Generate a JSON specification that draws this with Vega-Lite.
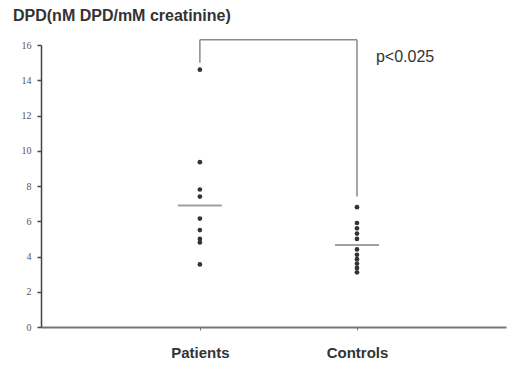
{
  "$schema": "https://vega.github.io/schema/vega-lite/v6.json",
  "width": 465,
  "height": 282,
  "autosize": {"type": "none"},
  "padding": {"left": 41, "top": 45, "right": 3, "bottom": 39},
  "background": "white",
  "config": {
    "view": {"stroke": null},
    "font": "Liberation Sans",
    "axisY": {
      "labelOverlap": false,
      "labelFont": "Liberation Serif",
      "labelFontSize": 10,
      "labelColor": "#555555",
      "labelPadding": 6,
      "domainColor": "#444444",
      "domainWidth": 1.5,
      "tickColor": "#444444",
      "tickWidth": 1.5,
      "tickSize": 4,
      "grid": false
    },
    "axisX": {
      "labelAngle": 0,
      "labelFontSize": 15,
      "labelFontWeight": "bold",
      "labelColor": "#333333",
      "labelFont": "Liberation Sans",
      "labelPadding": 15,
      "domainColor": "#777777",
      "domainWidth": 2,
      "tickColor": "#777777",
      "tickSize": 3,
      "grid": false
    }
  },
  "title": {
    "text": "DPD(nM DPD/mM creatinine)",
    "anchor": "start",
    "frame": "group",
    "dx": -28,
    "offset": 15,
    "fontSize": 16,
    "fontWeight": "bold",
    "color": "#333333",
    "font": "Liberation Sans"
  },
  "datasets": {
    "points": [
      {"group": "Patients", "value": 14.6},
      {"group": "Patients", "value": 9.35},
      {"group": "Patients", "value": 7.8},
      {"group": "Patients", "value": 7.4},
      {"group": "Patients", "value": 6.15},
      {"group": "Patients", "value": 5.5},
      {"group": "Patients", "value": 5.0},
      {"group": "Patients", "value": 4.8},
      {"group": "Patients", "value": 3.55},
      {"group": "Controls", "value": 6.8},
      {"group": "Controls", "value": 5.9},
      {"group": "Controls", "value": 5.6},
      {"group": "Controls", "value": 5.3},
      {"group": "Controls", "value": 5.0},
      {"group": "Controls", "value": 4.4},
      {"group": "Controls", "value": 4.1},
      {"group": "Controls", "value": 3.85},
      {"group": "Controls", "value": 3.6},
      {"group": "Controls", "value": 3.35},
      {"group": "Controls", "value": 3.1}
    ],
    "means": [
      {"group": "Patients", "value": 6.9},
      {"group": "Controls", "value": 4.65}
    ],
    "bracket": [
      {"group": "Patients", "group2": "Controls", "value": 16.3, "value2": 16.3},
      {"group": "Patients", "group2": "Patients", "value": 16.3, "value2": 15.0},
      {"group": "Controls", "group2": "Controls", "value": 16.3, "value2": 7.4}
    ],
    "annot": [
      {"group": "Controls", "value": 15.3, "label": "p<0.025"}
    ]
  },
  "encoding": {
    "x": {
      "field": "group",
      "type": "nominal",
      "sort": ["Patients", "Controls"],
      "scale": {"type": "point", "domain": ["Patients", "Controls"], "padding": 0.98, "align": 0.516},
      "axis": {"title": null, "labelDx": 4}
    },
    "y": {
      "field": "value",
      "type": "quantitative",
      "scale": {"domain": [0, 16], "nice": false, "zero": true},
      "axis": {"title": null, "values": [0, 2, 4, 6, 8, 10, 12, 14, 16]}
    }
  },
  "layer": [
    {
      "data": {"name": "points"},
      "mark": {"type": "point", "filled": true, "color": "#333333", "opacity": 1, "size": 22}
    },
    {
      "data": {"name": "bracket"},
      "mark": {"type": "rule", "color": "#8a8a8a", "strokeWidth": 1.5},
      "encoding": {
        "x2": {"field": "group2"},
        "y2": {"field": "value2"}
      }
    },
    {
      "data": {"name": "means"},
      "mark": {"type": "tick", "color": "#777777", "thickness": 2, "size": 44, "orient": "horizontal"}
    },
    {
      "data": {"name": "annot"},
      "mark": {"type": "text", "align": "left", "baseline": "middle", "dx": 19, "fontSize": 16, "color": "#333333", "font": "Liberation Sans"},
      "encoding": {
        "text": {"field": "label"}
      }
    }
  ]
}
